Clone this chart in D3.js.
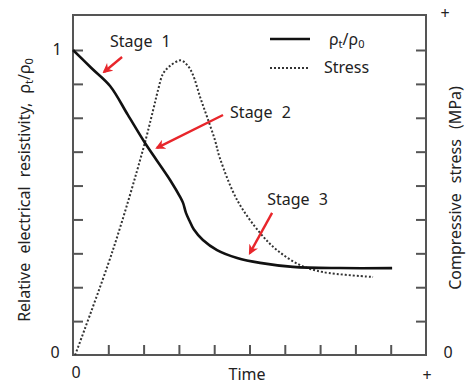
<!DOCTYPE html>
<html>
<head>
<meta charset="utf-8">
<script src="https://cdn.jsdelivr.net/npm/d3@7"></script>
<style>
  body { margin: 0; background: #fff; }
  svg text { font-family: "Noto Sans", "Open Sans", sans-serif; fill: #222; }
</style>
</head>
<body>
<svg id="chart" width="469" height="386"></svg>
<script>
// data (time in tick units, values normalised to the "1" tick)
const resistTime  = [0, 0.52, 1.05, 1.55, 2.04, 2.75, 3.05, 3.12, 3.20, 3.30, 3.42, 3.68, 4.08, 4.65, 5.30, 6.23, 7.56, 9.04];
const resistValue = [1, 0.941, 0.882, 0.788, 0.695, 0.574, 0.515, 0.498, 0.466, 0.440, 0.412, 0.377, 0.344, 0.318, 0.302, 0.289, 0.285, 0.285];

const stressTime  = [0.06, 1.13, 1.98, 2.27, 2.41, 2.55, 2.75, 3.06, 3.26, 3.40, 3.60, 3.80, 4.02, 4.16, 4.65, 5.30, 5.78, 6.43, 7.08, 8.50];
const stressValue = [0, 0.344, 0.672, 0.803, 0.869, 0.922, 0.948, 0.966, 0.947, 0.918, 0.846, 0.780, 0.705, 0.646, 0.508, 0.400, 0.344, 0.295, 0.272, 0.256];

const stageLabels = ["Stage 1", "Stage 2", "Stage 3"];
const stageText   = [[1.05, 1.010], [4.45, 0.777], [5.50, 0.492]];   // [t, v] of text start / baseline
const stageTail   = [[1.39, 0.977], [4.25, 0.787], [5.64, 0.466]];
const stageHead   = [[0.88, 0.928], [2.38, 0.679], [5.01, 0.334]];

const xTicks = d3.range(0, 11);          // 10 intervals on time
const yTicks = d3.range(0, 10).map(i => i / 9);

/* Set up */
const svg = d3.select("#chart");
const mLeft = 73, mRight = 426, mTop = 15, mBottom = 355;
const x = d3.scaleLinear().domain([0, 10]).range([mLeft, mRight]);
const y = d3.scaleLinear().domain([0, 340 / 305]).range([mBottom, mTop]);
const axisColor = "#555";

// arrow marker
svg.append("defs").append("marker")
    .attr("id", "head")
    .attr("viewBox", "0 0 10 10")
    .attr("refX", 8).attr("refY", 5)
    .attr("markerWidth", 4.2).attr("markerHeight", 4.2)
    .attr("markerUnits", "strokeWidth")
    .attr("orient", "auto")
  .append("path")
    .attr("d", "M0,0 L10,5 L0,10 L3,5 Z")
    .attr("fill", "#e8262b");

/* Axes */
const gL = svg.append("g").attr("transform", `translate(${mLeft},0)`)
    .call(d3.axisRight(y).tickValues(yTicks.slice(1, 10)).tickSize(10).tickFormat(""));
const gR = svg.append("g").attr("transform", `translate(${mRight},0)`)
    .call(d3.axisLeft(y).tickValues(yTicks.slice(1, 10)).tickSize(10).tickFormat(""));
const gB = svg.append("g").attr("transform", `translate(0,${mBottom})`)
    .call(d3.axisTop(x).tickValues(xTicks.slice(1, 10)).tickSize(10).tickFormat(""));
[gL, gR, gB].forEach(g => {
  g.select(".domain").remove();
  g.selectAll(".tick line").attr("stroke", axisColor).attr("stroke-width", 2);
});

svg.append("rect")
    .attr("x", mLeft).attr("y", mTop)
    .attr("width", mRight - mLeft).attr("height", mBottom - mTop)
    .attr("fill", "none").attr("stroke", axisColor).attr("stroke-width", 2);

/* Curves */
const line = d3.line()
    .x(d => x(d[0])).y(d => y(d[1]))
    .curve(d3.curveCatmullRom.alpha(0.5));

svg.append("path")
    .datum(stressTime.map((t, i) => [t, stressValue[i]]))
    .attr("d", line)
    .attr("fill", "none").attr("stroke", "#333")
    .attr("stroke-width", 2).attr("stroke-dasharray", "2,2");

svg.append("path")
    .datum(resistTime.map((t, i) => [t, resistValue[i]]))
    .attr("d", line)
    .attr("fill", "none").attr("stroke", "#111")
    .attr("stroke-width", 2.6).attr("stroke-linejoin", "round");

/* Stage annotations */
stageLabels.forEach((s, i) => {
  svg.append("line")
      .attr("x1", x(stageTail[i][0])).attr("y1", y(stageTail[i][1]))
      .attr("x2", x(stageHead[i][0])).attr("y2", y(stageHead[i][1]))
      .attr("stroke", "#e8262b").attr("stroke-width", 2.4)
      .attr("marker-end", "url(#head)");
  svg.append("text")
      .attr("x", x(stageText[i][0])).attr("y", y(stageText[i][1]))
      .attr("font-size", 16).attr("word-spacing", 5)
      .text(s);
});

/* Legend */
const leg = svg.append("g");
leg.append("line").attr("x1", 270).attr("x2", 310).attr("y1", 39).attr("y2", 39)
    .attr("stroke", "#111").attr("stroke-width", 2.6);
leg.append("line").attr("x1", 270).attr("x2", 310).attr("y1", 68).attr("y2", 68)
    .attr("stroke", "#333").attr("stroke-width", 2).attr("stroke-dasharray", "2,2");
const t1 = leg.append("text").attr("x", 329).attr("y", 45).attr("font-size", 16);
t1.append("tspan").text("ρ");
t1.append("tspan").attr("font-size", 11).attr("dy", 3).text("t");
t1.append("tspan").attr("dy", -3).text("/ρ");
t1.append("tspan").attr("font-size", 11).attr("dy", 3).text("0");
leg.append("text").attr("x", 324).attr("y", 73).attr("font-size", 16).text("Stress");

/* Tick labels */
const lab = (tx, ty, s, anchor) => svg.append("text")
    .attr("x", tx).attr("y", ty).attr("font-size", 16)
    .attr("text-anchor", anchor || "middle").text(s);
lab(57, y(1) + 5, "1");
lab(55, mBottom + 3, "0");
lab(76, mBottom + 23, "0");
lab(448, mBottom + 3, "0");
lab(445, 19, "+");
lab(427, mBottom + 26, "+");
lab(247, 380, "Time");

// y titles
const yt = svg.append("text")
    .attr("transform", `translate(30,${(mTop + mBottom) / 2 + 5}) rotate(-90)`)
    .attr("text-anchor", "middle").attr("font-size", 16).attr("word-spacing", 5);
yt.append("tspan").text("Relative electrical resistivity,  ρ");
yt.append("tspan").attr("font-size", 11).attr("dy", 3).text("t");
yt.append("tspan").attr("dy", -3).text("/ρ");
yt.append("tspan").attr("font-size", 11).attr("dy", 3).text("0");

svg.append("text")
    .attr("transform", `translate(461,${(mTop + mBottom) / 2 + 3}) rotate(-90)`)
    .attr("text-anchor", "middle").attr("font-size", 16).attr("word-spacing", 6)
    .text("Compressive stress (MPa)");
</script>
</body>
</html>
